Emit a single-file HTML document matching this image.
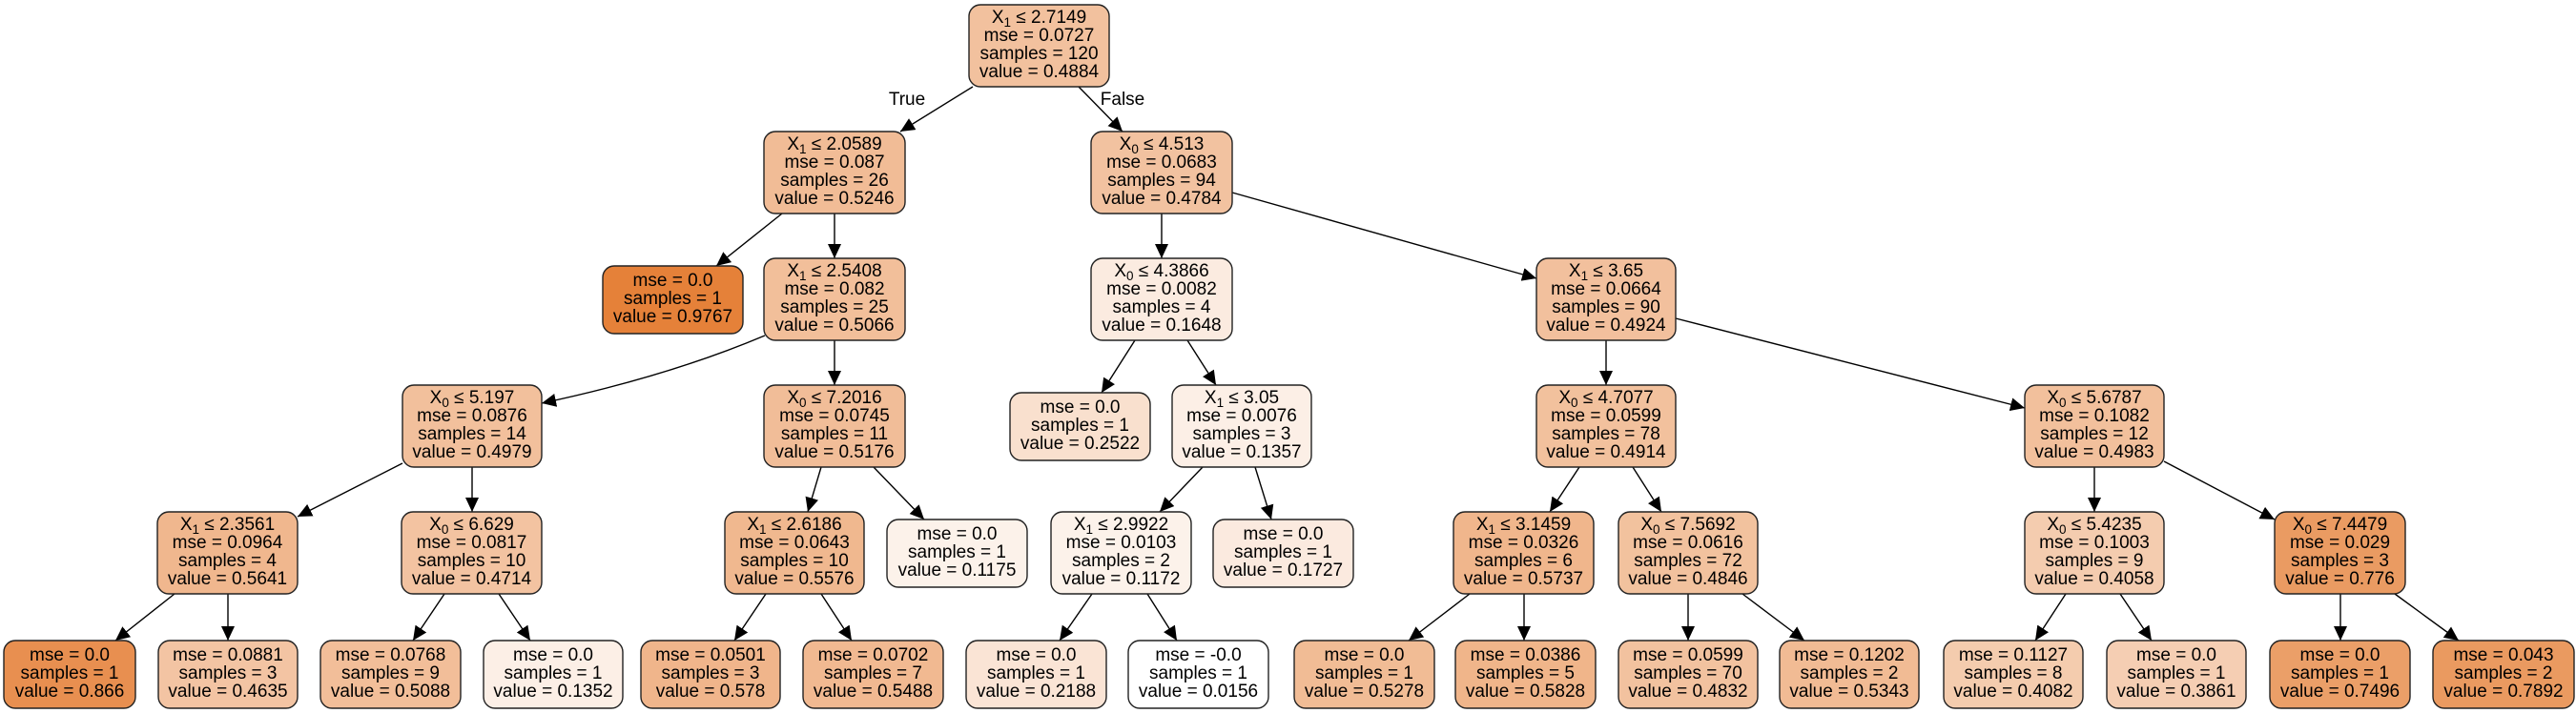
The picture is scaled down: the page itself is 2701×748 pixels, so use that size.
<!DOCTYPE html>
<html><head><meta charset="utf-8"><style>
html,body{margin:0;padding:0;background:#fff;}
svg{display:block;}
text{font-family:"Liberation Sans",Arial,sans-serif;font-size:19px;fill:#000;}
</style></head><body>
<svg width="2701" height="748" viewBox="0 0 2701 748" xmlns="http://www.w3.org/2000/svg">
<defs><marker id="ah" markerUnits="userSpaceOnUse" markerWidth="16" markerHeight="14" refX="15" refY="7" orient="auto"><path d="M0,0 L15,7 L0,14 Z" fill="#000"/></marker></defs>
<g stroke="#000" stroke-width="1.4" fill="none" marker-end="url(#ah)">
<line x1="1020" y1="91" x2="944" y2="138"/>
<line x1="1131" y1="91" x2="1177" y2="138"/>
<line x1="820" y1="224" x2="751" y2="279"/>
<line x1="875" y1="224" x2="875" y2="271"/>
<line x1="1218" y1="224" x2="1218" y2="271"/>
<line x1="1292" y1="202" x2="1611" y2="292"/>
<path d="M802,352 Q700,395 568,423"/>
<line x1="875" y1="357" x2="875" y2="404"/>
<line x1="1190" y1="357" x2="1155" y2="412"/>
<line x1="1245" y1="357" x2="1275" y2="404"/>
<line x1="1684" y1="357" x2="1684" y2="404"/>
<line x1="1757" y1="334" x2="2123" y2="428"/>
<line x1="422" y1="486" x2="312" y2="542"/>
<line x1="495" y1="490" x2="495" y2="537"/>
<line x1="861" y1="490" x2="847" y2="537"/>
<line x1="916" y1="490" x2="969" y2="545"/>
<line x1="1261" y1="490" x2="1216" y2="537"/>
<line x1="1316" y1="490" x2="1333" y2="545"/>
<line x1="1656" y1="490" x2="1625" y2="537"/>
<line x1="1712" y1="490" x2="1742" y2="537"/>
<line x1="2196" y1="490" x2="2196" y2="537"/>
<line x1="2269" y1="484" x2="2385" y2="545"/>
<line x1="183" y1="623" x2="121" y2="672"/>
<line x1="239" y1="623" x2="239" y2="672"/>
<line x1="466" y1="623" x2="433" y2="672"/>
<line x1="523" y1="623" x2="556" y2="672"/>
<line x1="803" y1="623" x2="770" y2="672"/>
<line x1="861" y1="623" x2="893" y2="672"/>
<line x1="1145" y1="623" x2="1111" y2="672"/>
<line x1="1203" y1="623" x2="1234" y2="672"/>
<line x1="1541" y1="623" x2="1477" y2="672"/>
<line x1="1598" y1="623" x2="1598" y2="672"/>
<line x1="1770" y1="623" x2="1770" y2="672"/>
<line x1="1827" y1="623" x2="1892" y2="672"/>
<line x1="2166" y1="623" x2="2134" y2="672"/>
<line x1="2223" y1="623" x2="2256" y2="672"/>
<line x1="2454" y1="623" x2="2454" y2="672"/>
<line x1="2511" y1="623" x2="2578" y2="672"/>
</g>
<text x="951" y="110" text-anchor="middle">True</text>
<text x="1177" y="110" text-anchor="middle">False</text>
<g stroke="#222" stroke-width="1.4">
<rect x="1016" y="5" width="147" height="86" rx="12" fill="#f2c19e"/>
<rect x="801" y="138" width="148" height="86" rx="12" fill="#f1bc96"/>
<rect x="1144" y="138" width="148" height="86" rx="12" fill="#f2c2a0"/>
<rect x="632" y="279" width="147" height="71" rx="12" fill="#e58139"/>
<rect x="801" y="271" width="148" height="86" rx="12" fill="#f2bf9a"/>
<rect x="1144" y="271" width="148" height="86" rx="12" fill="#fbebe0"/>
<rect x="1611" y="271" width="146" height="86" rx="12" fill="#f2c09d"/>
<rect x="422" y="404" width="146" height="86" rx="12" fill="#f2c09c"/>
<rect x="801" y="404" width="148" height="86" rx="12" fill="#f1bd98"/>
<rect x="1059" y="412" width="147" height="71" rx="12" fill="#f9e0ce"/>
<rect x="1229" y="404" width="146" height="86" rx="12" fill="#fcefe6"/>
<rect x="1611" y="404" width="146" height="86" rx="12" fill="#f2c19d"/>
<rect x="2123" y="404" width="146" height="86" rx="12" fill="#f2c09c"/>
<rect x="165" y="537" width="147" height="86" rx="12" fill="#f0b78e"/>
<rect x="421" y="537" width="147" height="86" rx="12" fill="#f3c3a1"/>
<rect x="760" y="537" width="146" height="86" rx="12" fill="#f0b88f"/>
<rect x="930" y="545" width="147" height="71" rx="12" fill="#fcf2ea"/>
<rect x="1102" y="537" width="147" height="86" rx="12" fill="#fcf2ea"/>
<rect x="1272" y="545" width="147" height="71" rx="12" fill="#fbeadf"/>
<rect x="1524" y="537" width="147" height="86" rx="12" fill="#f0b68c"/>
<rect x="1697" y="537" width="146" height="86" rx="12" fill="#f2c29e"/>
<rect x="2123" y="537" width="146" height="86" rx="12" fill="#f4ccaf"/>
<rect x="2385" y="537" width="137" height="86" rx="12" fill="#ea9b62"/>
<rect x="4" y="672" width="138" height="71" rx="12" fill="#e88f50"/>
<rect x="166" y="672" width="146" height="71" rx="12" fill="#f3c4a3"/>
<rect x="336" y="672" width="147" height="71" rx="12" fill="#f2be99"/>
<rect x="507" y="672" width="146" height="71" rx="12" fill="#fcefe6"/>
<rect x="672" y="672" width="146" height="71" rx="12" fill="#f0b58b"/>
<rect x="842" y="672" width="147" height="71" rx="12" fill="#f1b991"/>
<rect x="1013" y="672" width="147" height="71" rx="12" fill="#fae4d5"/>
<rect x="1183" y="672" width="147" height="71" rx="12" fill="#ffffff"/>
<rect x="1357" y="672" width="147" height="71" rx="12" fill="#f1bc95"/>
<rect x="1526" y="672" width="147" height="71" rx="12" fill="#f0b58a"/>
<rect x="1697" y="672" width="146" height="71" rx="12" fill="#f2c29f"/>
<rect x="1866" y="672" width="146" height="71" rx="12" fill="#f1bb94"/>
<rect x="2038" y="672" width="146" height="71" rx="12" fill="#f4ccae"/>
<rect x="2209" y="672" width="146" height="71" rx="12" fill="#f5ceb3"/>
<rect x="2380" y="672" width="147" height="71" rx="12" fill="#eb9f68"/>
<rect x="2551" y="672" width="148" height="71" rx="12" fill="#ea9a60"/>
</g>
<g text-anchor="middle">
<text x="1089.5" y="24">X<tspan font-size="13.5" dy="4">1</tspan><tspan dy="-4"> ≤ 2.7149</tspan></text>
<text x="1089.5" y="43">mse = 0.0727</text><text x="1089.5" y="62">samples = 120</text><text x="1089.5" y="81">value = 0.4884</text>
<text x="875" y="157">X<tspan font-size="13.5" dy="4">1</tspan><tspan dy="-4"> ≤ 2.0589</tspan></text>
<text x="875" y="176">mse = 0.087</text><text x="875" y="195">samples = 26</text><text x="875" y="214">value = 0.5246</text>
<text x="1218" y="157">X<tspan font-size="13.5" dy="4">0</tspan><tspan dy="-4"> ≤ 4.513</tspan></text>
<text x="1218" y="176">mse = 0.0683</text><text x="1218" y="195">samples = 94</text><text x="1218" y="214">value = 0.4784</text>
<text x="705.5" y="300">mse = 0.0</text><text x="705.5" y="319">samples = 1</text><text x="705.5" y="338">value = 0.9767</text>
<text x="875" y="290">X<tspan font-size="13.5" dy="4">1</tspan><tspan dy="-4"> ≤ 2.5408</tspan></text>
<text x="875" y="309">mse = 0.082</text><text x="875" y="328">samples = 25</text><text x="875" y="347">value = 0.5066</text>
<text x="1218" y="290">X<tspan font-size="13.5" dy="4">0</tspan><tspan dy="-4"> ≤ 4.3866</tspan></text>
<text x="1218" y="309">mse = 0.0082</text><text x="1218" y="328">samples = 4</text><text x="1218" y="347">value = 0.1648</text>
<text x="1684" y="290">X<tspan font-size="13.5" dy="4">1</tspan><tspan dy="-4"> ≤ 3.65</tspan></text>
<text x="1684" y="309">mse = 0.0664</text><text x="1684" y="328">samples = 90</text><text x="1684" y="347">value = 0.4924</text>
<text x="495" y="423">X<tspan font-size="13.5" dy="4">0</tspan><tspan dy="-4"> ≤ 5.197</tspan></text>
<text x="495" y="442">mse = 0.0876</text><text x="495" y="461">samples = 14</text><text x="495" y="480">value = 0.4979</text>
<text x="875" y="423">X<tspan font-size="13.5" dy="4">0</tspan><tspan dy="-4"> ≤ 7.2016</tspan></text>
<text x="875" y="442">mse = 0.0745</text><text x="875" y="461">samples = 11</text><text x="875" y="480">value = 0.5176</text>
<text x="1132.5" y="433">mse = 0.0</text><text x="1132.5" y="452">samples = 1</text><text x="1132.5" y="471">value = 0.2522</text>
<text x="1302" y="423">X<tspan font-size="13.5" dy="4">1</tspan><tspan dy="-4"> ≤ 3.05</tspan></text>
<text x="1302" y="442">mse = 0.0076</text><text x="1302" y="461">samples = 3</text><text x="1302" y="480">value = 0.1357</text>
<text x="1684" y="423">X<tspan font-size="13.5" dy="4">0</tspan><tspan dy="-4"> ≤ 4.7077</tspan></text>
<text x="1684" y="442">mse = 0.0599</text><text x="1684" y="461">samples = 78</text><text x="1684" y="480">value = 0.4914</text>
<text x="2196" y="423">X<tspan font-size="13.5" dy="4">0</tspan><tspan dy="-4"> ≤ 5.6787</tspan></text>
<text x="2196" y="442">mse = 0.1082</text><text x="2196" y="461">samples = 12</text><text x="2196" y="480">value = 0.4983</text>
<text x="238.5" y="556">X<tspan font-size="13.5" dy="4">1</tspan><tspan dy="-4"> ≤ 2.3561</tspan></text>
<text x="238.5" y="575">mse = 0.0964</text><text x="238.5" y="594">samples = 4</text><text x="238.5" y="613">value = 0.5641</text>
<text x="494.5" y="556">X<tspan font-size="13.5" dy="4">0</tspan><tspan dy="-4"> ≤ 6.629</tspan></text>
<text x="494.5" y="575">mse = 0.0817</text><text x="494.5" y="594">samples = 10</text><text x="494.5" y="613">value = 0.4714</text>
<text x="833" y="556">X<tspan font-size="13.5" dy="4">1</tspan><tspan dy="-4"> ≤ 2.6186</tspan></text>
<text x="833" y="575">mse = 0.0643</text><text x="833" y="594">samples = 10</text><text x="833" y="613">value = 0.5576</text>
<text x="1003.5" y="566">mse = 0.0</text><text x="1003.5" y="585">samples = 1</text><text x="1003.5" y="604">value = 0.1175</text>
<text x="1175.5" y="556">X<tspan font-size="13.5" dy="4">1</tspan><tspan dy="-4"> ≤ 2.9922</tspan></text>
<text x="1175.5" y="575">mse = 0.0103</text><text x="1175.5" y="594">samples = 2</text><text x="1175.5" y="613">value = 0.1172</text>
<text x="1345.5" y="566">mse = 0.0</text><text x="1345.5" y="585">samples = 1</text><text x="1345.5" y="604">value = 0.1727</text>
<text x="1597.5" y="556">X<tspan font-size="13.5" dy="4">1</tspan><tspan dy="-4"> ≤ 3.1459</tspan></text>
<text x="1597.5" y="575">mse = 0.0326</text><text x="1597.5" y="594">samples = 6</text><text x="1597.5" y="613">value = 0.5737</text>
<text x="1770" y="556">X<tspan font-size="13.5" dy="4">0</tspan><tspan dy="-4"> ≤ 7.5692</tspan></text>
<text x="1770" y="575">mse = 0.0616</text><text x="1770" y="594">samples = 72</text><text x="1770" y="613">value = 0.4846</text>
<text x="2196" y="556">X<tspan font-size="13.5" dy="4">0</tspan><tspan dy="-4"> ≤ 5.4235</tspan></text>
<text x="2196" y="575">mse = 0.1003</text><text x="2196" y="594">samples = 9</text><text x="2196" y="613">value = 0.4058</text>
<text x="2453.5" y="556">X<tspan font-size="13.5" dy="4">0</tspan><tspan dy="-4"> ≤ 7.4479</tspan></text>
<text x="2453.5" y="575">mse = 0.029</text><text x="2453.5" y="594">samples = 3</text><text x="2453.5" y="613">value = 0.776</text>
<text x="73" y="693">mse = 0.0</text><text x="73" y="712">samples = 1</text><text x="73" y="731">value = 0.866</text>
<text x="239" y="693">mse = 0.0881</text><text x="239" y="712">samples = 3</text><text x="239" y="731">value = 0.4635</text>
<text x="409.5" y="693">mse = 0.0768</text><text x="409.5" y="712">samples = 9</text><text x="409.5" y="731">value = 0.5088</text>
<text x="580" y="693">mse = 0.0</text><text x="580" y="712">samples = 1</text><text x="580" y="731">value = 0.1352</text>
<text x="745" y="693">mse = 0.0501</text><text x="745" y="712">samples = 3</text><text x="745" y="731">value = 0.578</text>
<text x="915.5" y="693">mse = 0.0702</text><text x="915.5" y="712">samples = 7</text><text x="915.5" y="731">value = 0.5488</text>
<text x="1086.5" y="693">mse = 0.0</text><text x="1086.5" y="712">samples = 1</text><text x="1086.5" y="731">value = 0.2188</text>
<text x="1256.5" y="693">mse = -0.0</text><text x="1256.5" y="712">samples = 1</text><text x="1256.5" y="731">value = 0.0156</text>
<text x="1430.5" y="693">mse = 0.0</text><text x="1430.5" y="712">samples = 1</text><text x="1430.5" y="731">value = 0.5278</text>
<text x="1599.5" y="693">mse = 0.0386</text><text x="1599.5" y="712">samples = 5</text><text x="1599.5" y="731">value = 0.5828</text>
<text x="1770" y="693">mse = 0.0599</text><text x="1770" y="712">samples = 70</text><text x="1770" y="731">value = 0.4832</text>
<text x="1939" y="693">mse = 0.1202</text><text x="1939" y="712">samples = 2</text><text x="1939" y="731">value = 0.5343</text>
<text x="2111" y="693">mse = 0.1127</text><text x="2111" y="712">samples = 8</text><text x="2111" y="731">value = 0.4082</text>
<text x="2282" y="693">mse = 0.0</text><text x="2282" y="712">samples = 1</text><text x="2282" y="731">value = 0.3861</text>
<text x="2453.5" y="693">mse = 0.0</text><text x="2453.5" y="712">samples = 1</text><text x="2453.5" y="731">value = 0.7496</text>
<text x="2625" y="693">mse = 0.043</text><text x="2625" y="712">samples = 2</text><text x="2625" y="731">value = 0.7892</text>
</g>
</svg>
</body></html>
